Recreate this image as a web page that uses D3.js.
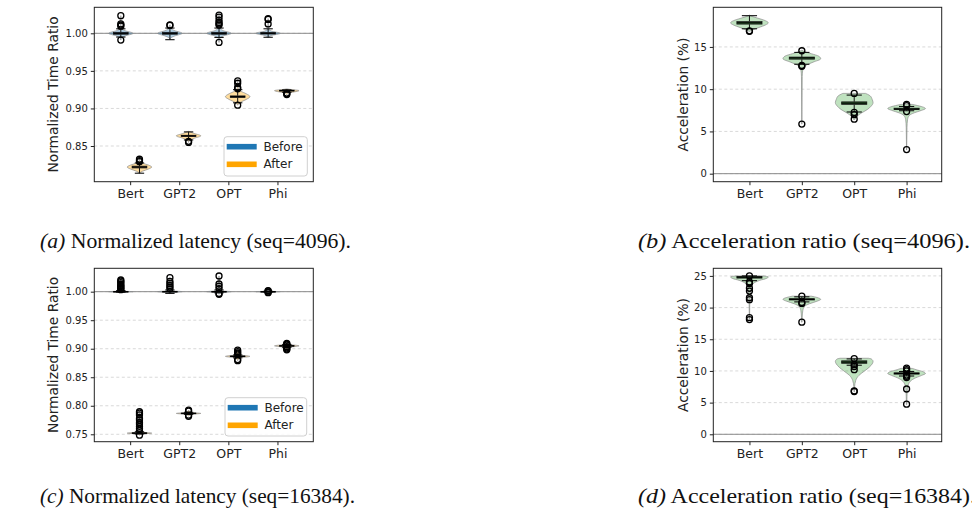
<!DOCTYPE html>
<html><head><meta charset="utf-8">
<script src="https://cdn.jsdelivr.net/npm/d3@7"></script>
<style>body{margin:0;background:#fff}svg{display:block}</style>
</head><body><svg id="c" width="972" height="514"></svg>
<script>
// ---------------- data ----------------
const categories = ["Bert","GPT2","OPT","Phi"];
const seriesNames = ["Before","After"];
const yTicksLatency4096 = [0.85,0.90,0.95,1.00];
const yTicksLatency16384 = [0.75,0.80,0.85,0.90,0.95,1.00];
const yTicksAccel4096 = [0,5,10,15];
const yTicksAccel16384 = [0,5,10,15,20,25];

// box stats per category: [q1, median, q3, whiskerLow, whiskerHigh]
// (a) seq=4096 normalized latency
const aBeforeBox = [[0.9987,1.000,1.0013,0.995,1.006],[0.9987,1.000,1.0013,0.9915,1.007],[0.9987,1.000,1.0013,0.9945,1.007],[0.999,1.000,1.001,0.9947,1.006]];
const aBeforeFliers = [[1.0235,1.0125,1.011,1.0095,0.991],[1.0112,1.0105],[1.0243,1.0215,1.0175,1.0145,1.0125,1.011,0.9878],[1.0195,1.0185,1.0125]];
const aBeforeShape = [
  [[0.991,0],[0.994,0.05],[0.9965,0.35],[1.000,1],[1.0035,0.35],[1.006,0.06],[1.010,0.02],[1.016,0.01],[1.0235,0]],
  [[0.9915,0],[0.994,0.08],[0.9965,0.4],[1.000,1],[1.0035,0.4],[1.006,0.1],[1.0112,0]],
  [[0.9878,0],[0.993,0.06],[0.9965,0.35],[1.000,1],[1.0035,0.35],[1.0065,0.08],[1.012,0.02],[1.0243,0]],
  [[0.994,0],[0.997,0.25],[1.000,1],[1.003,0.25],[1.006,0.04],[1.012,0.01],[1.0195,0]]
];
const aAfterBox = [[0.8208,0.822,0.8232,0.8138,0.8275],[0.8628,0.8635,0.8643,0.858,0.8688],[0.9147,0.9157,0.9167,0.9075,0.925],[0.9232,0.9237,0.9242,0.9215,0.9248]];
const aAfterFliers = [[0.8324,0.8305,0.8292],[0.8562,0.8548],[0.9366,0.9335,0.928,0.9262,0.9043],[0.9205,0.9195,0.9185]];
const aAfterShape = [
  [[0.8138,0],[0.8165,0.25],[0.8195,0.75],[0.822,1],[0.8245,0.75],[0.827,0.3],[0.829,0.08],[0.8324,0]],
  [[0.8548,0],[0.8575,0.1],[0.8605,0.5],[0.8635,1],[0.8665,0.5],[0.8688,0.1],[0.8695,0]],
  [[0.9043,0],[0.908,0.2],[0.912,0.7],[0.9157,1],[0.9195,0.7],[0.923,0.25],[0.927,0.05],[0.9366,0]],
  [[0.9183,0],[0.9205,0.15],[0.9237,1],[0.9255,0.2],[0.926,0]]
];

// (b) seq=4096 acceleration (%)
const bBox = [[17.7,17.85,18.0,17.15,18.7],[13.55,13.7,13.8,12.95,14.35],[8.2,8.35,8.5,7.3,9.3],[7.6,7.65,7.75,7.45,7.95]];
const bFliers = [[16.9,16.85],[14.55,12.8,12.7,5.87],[9.5,7.25,7.0,6.45],[8.2,8.05,7.35,2.85]];
const bShape = [
  [[16.85,0.02],[17.0,0.15],[17.3,0.5],[17.6,0.85],[17.85,1.0],[18.1,0.85],[18.4,0.45],[18.6,0.15],[18.75,0.02]],
  [[5.87,0.005],[8,0.01],[10,0.015],[11.5,0.02],[12.3,0.05],[12.8,0.2],[13.2,0.6],[13.6,1.0],[13.9,0.9],[14.2,0.5],[14.45,0.15],[14.6,0.02]],
  [[6.4,0.03],[6.8,0.15],[7.2,0.4],[7.6,0.7],[8.0,0.9],[8.4,1.0],[8.8,0.95],[9.2,0.85],[9.4,0.7],[9.5,0.6]],
  [[2.8,0.005],[4,0.01],[5.5,0.02],[6.4,0.05],[6.9,0.15],[7.2,0.4],[7.5,0.8],[7.7,1.0],[7.9,0.85],[8.1,0.5],[8.2,0.3]]
];

// (c) seq=16384 normalized latency
const cBeforeBox = [[0.9997,1.000,1.0003,0.999,1.002],[0.9995,1.000,1.0005,0.997,1.003],[0.9995,1.000,1.0005,0.998,1.003],[0.9998,1.000,1.0002,0.9993,1.0007]];
const cBeforeFliers = [[1.0205,1.0185,1.016,1.013,1.011,1.009,1.007,1.005,1.0035],[1.0245,1.018,1.0145,1.011,1.008,1.005],[1.0275,1.0135,1.0095,1.0055,0.997,0.9955],[1.0018,1.001,0.999,0.9982]];
const cBeforeShape = [
  [[0.9985,0],[0.9993,0.3],[1.000,1],[1.0008,0.3],[1.002,0.05],[1.006,0.01],[1.0205,0]],
  [[0.9965,0],[0.9985,0.2],[1.000,1],[1.0015,0.2],[1.004,0.04],[1.0245,0]],
  [[0.9955,0],[0.9985,0.2],[1.000,1],[1.0015,0.2],[1.004,0.04],[1.0275,0]],
  [[0.998,0],[0.9993,0.2],[1.000,1],[1.0007,0.2],[1.002,0]]
];
const cAfterBox = [[0.7515,0.752,0.7525,0.7505,0.7545],[0.7862,0.7866,0.787,0.785,0.7885],[0.8861,0.8866,0.8871,0.884,0.889],[0.9046,0.905,0.9054,0.9025,0.9075]];
const cAfterFliers = [[0.7895,0.787,0.784,0.778,0.775,0.771,0.768,0.764,0.7605,0.757,0.7485],[0.7925,0.7905,0.7835,0.7815],[0.8977,0.895,0.8925,0.8905,0.881,0.879],[0.9095,0.908,0.9065,0.9035,0.9015,0.8995,0.898]];
const cAfterShape = [
  [[0.7485,0],[0.7505,0.2],[0.752,1],[0.7535,0.2],[0.756,0.03],[0.765,0.01],[0.7895,0]],
  [[0.7815,0],[0.785,0.2],[0.7866,1],[0.7882,0.2],[0.7925,0]],
  [[0.879,0],[0.884,0.2],[0.8866,1],[0.889,0.2],[0.8977,0]],
  [[0.898,0],[0.9025,0.2],[0.905,1],[0.9075,0.2],[0.9095,0]]
];

// (d) seq=16384 acceleration (%)
const dBox = [[24.65,24.8,24.9,24.25,25.0],[21.2,21.3,21.4,20.9,21.7],[11.2,11.4,11.6,10.9,11.9],[9.5,9.6,9.7,9.2,9.9]];
const dFliers = [[25.0,24.05,23.8,23.05,22.6,21.55,21.25,18.4,18.1],[21.8,20.8,20.65,17.7],[11.95,11.0,10.7,10.2,6.75,6.85],[10.45,10.2,10.0,9.35,9.15,8.95,7.15,4.75]];
const dShape = [
  [[18.1,0.01],[19,0.01],[20.5,0.015],[21.5,0.03],[22.5,0.05],[23.3,0.1],[23.9,0.25],[24.3,0.55],[24.6,0.9],[24.85,1.0],[25.0,0.7]],
  [[17.7,0.01],[18.5,0.02],[19.5,0.05],[20.2,0.15],[20.6,0.4],[21.0,0.8],[21.3,1.0],[21.6,0.8],[21.8,0.5]],
  [[6.7,0.01],[7.5,0.02],[8.5,0.08],[9.3,0.25],[10.0,0.55],[10.6,0.8],[11.1,0.95],[11.5,1.0],[11.9,0.9],[12.0,0.75]],
  [[4.7,0.01],[6,0.02],[7.2,0.04],[8.2,0.15],[8.8,0.4],[9.3,0.8],[9.6,1.0],[9.9,0.85],[10.2,0.5],[10.4,0.3]]
];

const captions = [
  ["(a)"," Normalized latency (seq=4096)."],
  ["(b)"," Acceleration ratio (seq=4096)."],
  ["(c)"," Normalized latency (seq=16384)."],
  ["(d)"," Acceleration ratio (seq=16384)."]
];

// ---------------- drawing ----------------
const svg = d3.select("#c");
const FONT = "DejaVu Sans, sans-serif";
const COL = {blue:"#1f77b4", orange:"#ffa500", green:"#2ca02c"};

function panel(o){
  const g = svg.append("g");
  const x = d3.scaleLinear().domain(o.xDomain).range([o.left,o.right]);
  const y = d3.scaleLinear().domain(o.yDomain).range([o.bottom,o.top]);
  g.selectAll(".grid").data(o.yTicks).join("line")
    .attr("x1",o.left).attr("x2",o.right).attr("y1",d=>y(d)).attr("y2",d=>y(d))
    .attr("stroke","#cfcfcf").attr("stroke-width",0.8).attr("stroke-dasharray","3,2.5");
  g.append("line").attr("x1",o.left).attr("x2",o.right).attr("y1",y(o.ref)).attr("y2",y(o.ref))
    .attr("stroke","#8a8a8a").attr("stroke-width",1);
  const pxPerUnit = x(1)-x(0);
  o.groups.forEach(grp=>{
    const halfV = grp.vw/2*pxPerUnit, halfB = grp.bw/2*pxPerUnit, halfC = grp.cw/2*pxPerUnit;
    categories.forEach((c,i)=>{
      const cx = x(i+1+grp.offset);
      const area = d3.area().curve(d3.curveMonotoneY)
        .y(d=>y(d[0])).x0(d=>cx-d[1]*halfV).x1(d=>cx+d[1]*halfV);
      g.append("path").attr("d",area(grp.shapes[i]))
        .attr("fill",grp.color).attr("fill-opacity",grp.alpha)
        .attr("stroke","#8c8c8c").attr("stroke-opacity",0.7).attr("stroke-width",1);
    });
    categories.forEach((c,i)=>{
      const cx = x(i+1+grp.offset);
      const [q1,med,q3,wl,wh] = grp.boxes[i];
      g.append("line").attr("x1",cx).attr("x2",cx).attr("y1",y(wl)).attr("y2",y(q1)).attr("stroke","#111").attr("stroke-width",1);
      g.append("line").attr("x1",cx).attr("x2",cx).attr("y1",y(q3)).attr("y2",y(wh)).attr("stroke","#111").attr("stroke-width",1);
      [wl,wh].forEach(v=>g.append("line").attr("x1",cx-halfC).attr("x2",cx+halfC).attr("y1",y(v)).attr("y2",y(v)).attr("stroke","#111").attr("stroke-width",1.1));
      g.append("rect").attr("x",cx-halfB).attr("width",2*halfB).attr("y",y(q3)).attr("height",Math.max(0.5,y(q1)-y(q3)))
        .attr("fill",grp.boxColor).attr("stroke","#222").attr("stroke-width",0.8);
      g.append("line").attr("x1",cx-halfB).attr("x2",cx+halfB).attr("y1",y(med)).attr("y2",y(med)).attr("stroke","#000").attr("stroke-width",1.3);
      g.selectAll(null).data(grp.fliers[i]).join("circle")
        .attr("cx",cx).attr("cy",d=>y(d)).attr("r",3).attr("fill","none").attr("stroke","#000").attr("stroke-width",1.3);
    });
  });
  g.append("rect").attr("x",o.left).attr("y",o.top).attr("width",o.right-o.left).attr("height",o.bottom-o.top)
    .attr("fill","none").attr("stroke","#222").attr("stroke-width",1);
  const ya = g.append("g").attr("transform",`translate(${o.left},0)`)
    .call(d3.axisLeft(y).tickValues(o.yTicks).tickFormat(o.fmt).tickSize(3.5).tickPadding(3));
  ya.select(".domain").remove();
  ya.selectAll("line").attr("stroke","#222");
  ya.selectAll("text").attr("font-family",FONT).attr("font-size",o.yFont).attr("fill","#222");
  const xa = g.append("g").attr("transform",`translate(0,${o.bottom})`)
    .call(d3.axisBottom(x).tickValues([1,2,3,4]).tickFormat(d=>categories[d-1]).tickSize(3.5).tickPadding(3.5));
  xa.select(".domain").remove();
  xa.selectAll("line").attr("stroke","#222");
  xa.selectAll("text").attr("font-family",FONT).attr("font-size",12.5).attr("fill","#222");
  g.append("text").attr("transform",`translate(${o.ylabX},${(o.top+o.bottom)/2}) rotate(-90)`)
    .attr("text-anchor","middle").attr("dominant-baseline","central")
    .attr("font-family",FONT).attr("font-size",13.8).attr("fill","#222").text(o.ylabel);
  if(o.legend){
    const L = o.legend;
    g.append("rect").attr("x",L.x).attr("y",L.y).attr("width",L.w).attr("height",L.h).attr("rx",3)
      .attr("fill","#fff").attr("fill-opacity",0.85).attr("stroke","#d0d0d0").attr("stroke-width",1);
    seriesNames.forEach((s,k)=>{
      const cy = L.y + 10 + k*17.6;
      g.append("rect").attr("x",L.x+2.7).attr("y",cy-2.8).attr("width",30).attr("height",5.6)
        .attr("fill",k===0?COL.blue:COL.orange);
      g.append("text").attr("x",L.x+39.5).attr("y",cy).attr("dominant-baseline","central")
        .attr("font-family",FONT).attr("font-size",12).attr("fill","#222").text(s);
    });
  }
}

const fmt2 = d3.format(".2f"), fmt0 = d3.format("d");
const latGroups = (bb,bf,bs,ab,af,as)=>[
  {offset:-0.19, color:COL.blue, alpha:0.35, boxColor:"#2a5f8a", vw:0.5, bw:0.3, cw:0.19, boxes:bb, fliers:bf, shapes:bs},
  {offset:0.19, color:COL.orange, alpha:0.38, boxColor:"#8a6a3a", vw:0.5, bw:0.3, cw:0.19, boxes:ab, fliers:af, shapes:as}
];
panel({left:94.3,right:313.3,top:7.3,bottom:181.7,xDomain:[0.27,4.73],yDomain:[0.8025,1.0346],
  yTicks:yTicksLatency4096,fmt:fmt2,yFont:10,ref:1.0,ylabel:"Normalized Time Ratio",ylabX:53,
  groups:latGroups(aBeforeBox,aBeforeFliers,aBeforeShape,aAfterBox,aAfterFliers,aAfterShape),
  legend:{x:224,y:136.7,w:83.3,h:39.3}});
panel({left:713.3,right:941.7,top:7.3,bottom:181.7,xDomain:[0.31,4.67],yDomain:[-0.95,19.69],
  yTicks:yTicksAccel4096,fmt:fmt0,yFont:10,ref:0,ylabel:"Acceleration (%)",ylabX:683.3,
  groups:[{offset:0,color:COL.green,alpha:0.3,boxColor:"#3b7d3b",vw:0.72,bw:0.48,cw:0.29,boxes:bBox,fliers:bFliers,shapes:bShape}]});
panel({left:94.3,right:313.3,top:268.3,bottom:441.7,xDomain:[0.27,4.73],yDomain:[0.737,1.041],
  yTicks:yTicksLatency16384,fmt:fmt2,yFont:10,ref:1.0,ylabel:"Normalized Time Ratio",ylabX:53,
  groups:latGroups(cBeforeBox,cBeforeFliers,cBeforeShape,cAfterBox,cAfterFliers,cAfterShape),
  legend:{x:225,y:397.7,w:81.7,h:38.3}});
panel({left:713.3,right:941.7,top:268.3,bottom:441.7,xDomain:[0.31,4.67],yDomain:[-1.17,26.2],
  yTicks:yTicksAccel16384,fmt:fmt0,yFont:10,ref:0,ylabel:"Acceleration (%)",ylabX:683.3,
  groups:[{offset:0,color:COL.green,alpha:0.3,boxColor:"#3b7d3b",vw:0.72,bw:0.48,cw:0.29,boxes:dBox,fliers:dFliers,shapes:dShape}]});

// captions (widths matched to the reference)
const capPos = [[40,248,311],[638,248,332],[40,503,315],[638,503,338]];
captions.forEach((c,i)=>{
  const t = svg.append("text").attr("x",capPos[i][0]).attr("y",capPos[i][1])
    .attr("textLength",capPos[i][2]).attr("lengthAdjust","spacingAndGlyphs")
    .attr("font-family","Liberation Serif, Times New Roman, serif").attr("font-size",21.5).attr("fill","#111");
  t.append("tspan").attr("font-style","italic").text(c[0]);
  t.append("tspan").text(c[1]);
});
</script>
</body></html>
